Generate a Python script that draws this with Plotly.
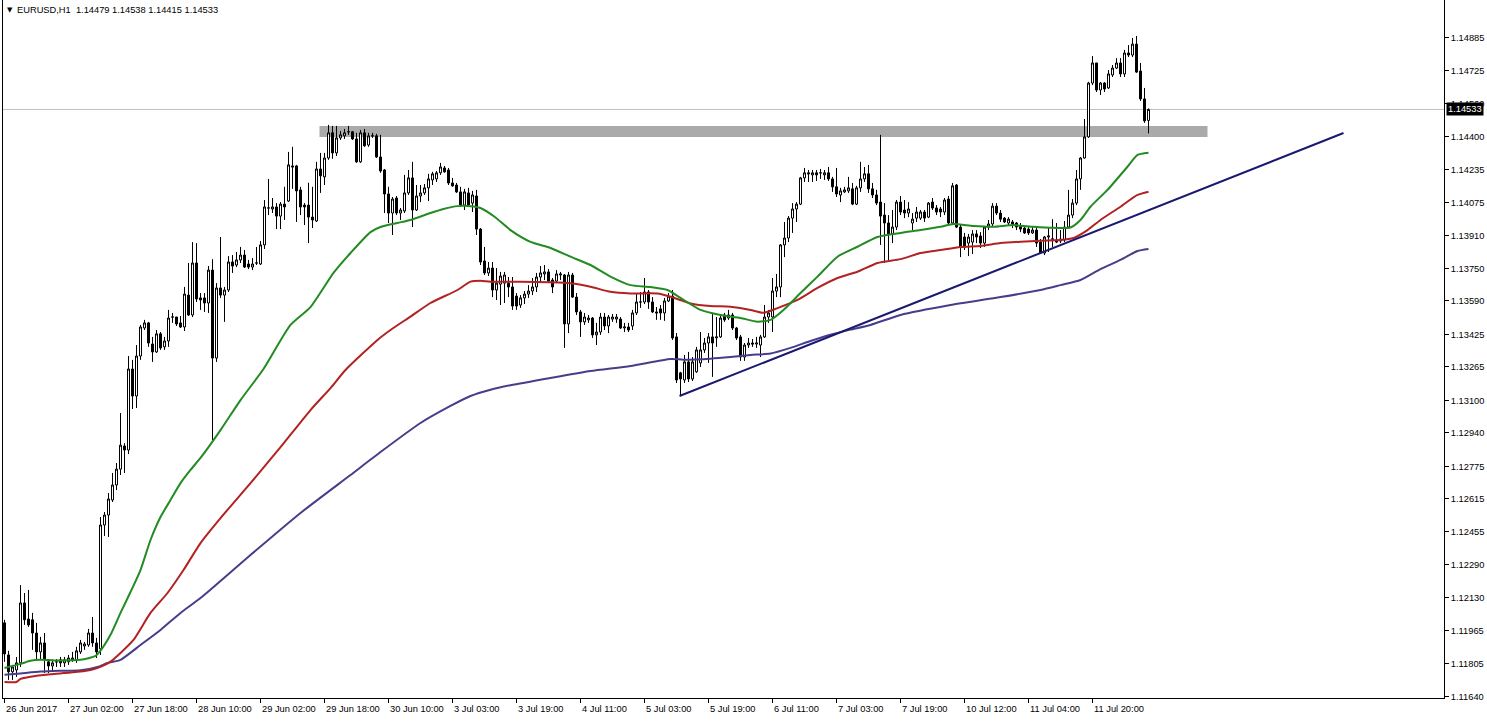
import plotly.graph_objects as go

# ---------------- data (EURUSD H1) ----------------
bar_index = list(range(287))

opens = [
    1.12005, 1.11847, 1.11764, 1.11773, 1.11808, 1.12103, 1.12024, 1.12020, 1.11955, 1.11862,
    1.11906, 1.11813, 1.11793, 1.11813, 1.11823, 1.11808, 1.11813, 1.11823, 1.11823, 1.11862,
    1.11891, 1.11896, 1.11955, 1.11906, 1.11877, 1.12487, 1.12536, 1.12610, 1.12684, 1.12762,
    1.12876, 1.12856, 1.13255, 1.13122, 1.13319, 1.13457, 1.13482, 1.13378, 1.13339, 1.13428,
    1.13364, 1.13393, 1.13511, 1.13511, 1.13482, 1.13462, 1.13619, 1.13521, 1.13777, 1.13605,
    1.13605, 1.13580, 1.13742, 1.13309, 1.13654, 1.13619, 1.13644, 1.13782, 1.13767, 1.13792,
    1.13816, 1.13772, 1.13757, 1.13777, 1.13772, 1.13866, 1.14048, 1.14043, 1.14053, 1.14008,
    1.14067, 1.14082, 1.14255, 1.14255, 1.14137, 1.14062, 1.14062, 1.14003, 1.13984, 1.14240,
    1.14201, 1.14294, 1.14418, 1.14319, 1.14393, 1.14403, 1.14423, 1.14423, 1.14388, 1.14275,
    1.14418, 1.14358, 1.14403, 1.14403, 1.14299, 1.14235, 1.14117, 1.14023, 1.14097, 1.14023,
    1.14033, 1.14122, 1.14196, 1.14038, 1.14107, 1.14122, 1.14147, 1.14186, 1.14191, 1.14221,
    1.14245, 1.14235, 1.14171, 1.14161, 1.14127, 1.14062, 1.14122, 1.14072, 1.14107, 1.13944,
    1.13787, 1.13728, 1.13752, 1.13644, 1.13673, 1.13678, 1.13678, 1.13659, 1.13614, 1.13570,
    1.13605, 1.13624, 1.13639, 1.13659, 1.13708, 1.13723, 1.13733, 1.13693, 1.13688, 1.13718,
    1.13718, 1.13477, 1.13718, 1.13609, 1.13536, 1.13487, 1.13497, 1.13506, 1.13423, 1.13437,
    1.13511, 1.13467, 1.13501, 1.13501, 1.13501, 1.13457, 1.13462, 1.13467, 1.13531, 1.13585,
    1.13585, 1.13634, 1.13585, 1.13536, 1.13551, 1.13531, 1.13590, 1.13614, 1.13413, 1.13236,
    1.13201, 1.13290, 1.13206, 1.13241, 1.13285, 1.13349, 1.13383, 1.13413, 1.13408, 1.13413,
    1.13521, 1.13506, 1.13521, 1.13457, 1.13413, 1.13314, 1.13373, 1.13383, 1.13378, 1.13373,
    1.13413, 1.13511, 1.13511, 1.13639, 1.13659, 1.13866, 1.13900, 1.13998, 1.14043, 1.14067,
    1.14196, 1.14221, 1.14211, 1.14221, 1.14221, 1.14211, 1.14221, 1.14191, 1.14152, 1.14112,
    1.14127, 1.14132, 1.14142, 1.14067, 1.14147, 1.14191, 1.14216, 1.14142, 1.14112, 1.14077,
    1.14013, 1.13974, 1.13920, 1.13954, 1.14077, 1.14038, 1.14023, 1.13974, 1.13998, 1.13998,
    1.14028, 1.14003, 1.14077, 1.14048, 1.14043, 1.14028, 1.14092, 1.13974, 1.14161, 1.13954,
    1.13905, 1.13875, 1.13880, 1.13920, 1.13910, 1.13875, 1.13954, 1.13969, 1.14057, 1.14023,
    1.13998, 1.13974, 1.13979, 1.13974, 1.13959, 1.13949, 1.13944, 1.13925, 1.13939, 1.13880,
    1.13826, 1.13905, 1.13895, 1.13890, 1.13885, 1.13890, 1.13954, 1.14013, 1.14072, 1.14191,
    1.14294, 1.14398, 1.14663, 1.14762, 1.14629, 1.14663, 1.14639, 1.14703, 1.14737, 1.14762,
    1.14708, 1.14811, 1.14801, 1.14855, 1.14722, 1.14585, 1.14479,
]

highs = [
    1.12020, 1.11867, 1.11798, 1.11837, 1.12191, 1.12152, 1.12167, 1.12054, 1.12005, 1.11936,
    1.11955, 1.11823, 1.11823, 1.11827, 1.11837, 1.11837, 1.11847, 1.11862, 1.11887, 1.11921,
    1.11911, 1.11975, 1.12034, 1.11931, 1.12526, 1.12551, 1.12644, 1.12743, 1.12792, 1.13038,
    1.12890, 1.13319, 1.13300, 1.13373, 1.13472, 1.13497, 1.13487, 1.13413, 1.13447, 1.13437,
    1.13413, 1.13546, 1.13531, 1.13511, 1.13516, 1.13659, 1.13777, 1.13880, 1.13875, 1.13629,
    1.13629, 1.13762, 1.13796, 1.13678, 1.13905, 1.13659, 1.13811, 1.13816, 1.13831, 1.13856,
    1.13841, 1.13792, 1.13801, 1.13856, 1.13885, 1.14087, 1.14191, 1.14097, 1.14072, 1.14077,
    1.14152, 1.14324, 1.14349, 1.14260, 1.14152, 1.14072, 1.14172, 1.14152, 1.14275, 1.14319,
    1.14319, 1.14457, 1.14452, 1.14452, 1.14427, 1.14437, 1.14452, 1.14427, 1.14418, 1.14432,
    1.14437, 1.14418, 1.14418, 1.14413, 1.14408, 1.14240, 1.14152, 1.14102, 1.14107, 1.14048,
    1.14211, 1.14235, 1.14275, 1.14161, 1.14161, 1.14166, 1.14216, 1.14226, 1.14230, 1.14270,
    1.14255, 1.14245, 1.14196, 1.14171, 1.14152, 1.14142, 1.14147, 1.14132, 1.14137, 1.13949,
    1.13856, 1.13782, 1.13782, 1.13752, 1.13733, 1.13733, 1.13708, 1.13708, 1.13629, 1.13619,
    1.13639, 1.13668, 1.13703, 1.13728, 1.13762, 1.13767, 1.13747, 1.13703, 1.13742, 1.13733,
    1.13723, 1.13733, 1.13728, 1.13629, 1.13546, 1.13531, 1.13521, 1.13511, 1.13482, 1.13531,
    1.13531, 1.13521, 1.13526, 1.13526, 1.13511, 1.13482, 1.13482, 1.13546, 1.13629, 1.13634,
    1.13703, 1.13644, 1.13609, 1.13560, 1.13570, 1.13605, 1.13629, 1.13644, 1.13432, 1.13241,
    1.13324, 1.13339, 1.13314, 1.13364, 1.13437, 1.13408, 1.13432, 1.13531, 1.13511, 1.13521,
    1.13531, 1.13546, 1.13531, 1.13462, 1.13423, 1.13383, 1.13408, 1.13403, 1.13413, 1.13423,
    1.13570, 1.13546, 1.13703, 1.13723, 1.13870, 1.13979, 1.14008, 1.14072, 1.14077, 1.14201,
    1.14245, 1.14235, 1.14235, 1.14235, 1.14240, 1.14235, 1.14250, 1.14201, 1.14245, 1.14147,
    1.14152, 1.14201, 1.14171, 1.14157, 1.14275, 1.14250, 1.14260, 1.14171, 1.14137, 1.14408,
    1.14072, 1.14013, 1.14038, 1.14087, 1.14107, 1.14087, 1.14077, 1.14023, 1.14053, 1.14038,
    1.14038, 1.14077, 1.14097, 1.14062, 1.14053, 1.14097, 1.14107, 1.14171, 1.14166, 1.13964,
    1.13925, 1.13920, 1.13939, 1.13939, 1.13929, 1.13959, 1.13989, 1.14072, 1.14072, 1.14038,
    1.14003, 1.14003, 1.13989, 1.13979, 1.13974, 1.13959, 1.13954, 1.13954, 1.13949, 1.13895,
    1.13910, 1.13949, 1.13993, 1.13974, 1.13939, 1.13984, 1.14137, 1.14092, 1.14235, 1.14299,
    1.14486, 1.14669, 1.14796, 1.14762, 1.14668, 1.14668, 1.14727, 1.14752, 1.14786, 1.14786,
    1.14826, 1.14850, 1.14885, 1.14895, 1.14762, 1.14639, 1.14538,
]

lows = [
    1.11813, 1.11724, 1.11724, 1.11739, 1.11788, 1.11995, 1.11985, 1.11872, 1.11823, 1.11823,
    1.11758, 1.11758, 1.11773, 1.11788, 1.11788, 1.11788, 1.11798, 1.11813, 1.11808, 1.11852,
    1.11872, 1.11887, 1.11887, 1.11832, 1.11847, 1.12433, 1.12428, 1.12600, 1.12659, 1.12733,
    1.12743, 1.12836, 1.13058, 1.13063, 1.13300, 1.13447, 1.13364, 1.13290, 1.13334, 1.13349,
    1.13349, 1.13364, 1.13482, 1.13467, 1.13457, 1.13442, 1.13516, 1.13511, 1.13585, 1.13546,
    1.13536, 1.13531, 1.12905, 1.13290, 1.13605, 1.13487, 1.13634, 1.13728, 1.13757, 1.13777,
    1.13752, 1.13747, 1.13742, 1.13767, 1.13767, 1.13846, 1.14013, 1.14023, 1.13944, 1.13944,
    1.13989, 1.14077, 1.14142, 1.13979, 1.14013, 1.13964, 1.13875, 1.13949, 1.13979, 1.14122,
    1.14161, 1.14285, 1.14290, 1.14304, 1.14383, 1.14388, 1.14408, 1.14383, 1.14270, 1.14270,
    1.14349, 1.14349, 1.14393, 1.14294, 1.14221, 1.14023, 1.13974, 1.13915, 1.14013, 1.13989,
    1.14023, 1.14112, 1.13954, 1.14033, 1.14077, 1.14112, 1.14082, 1.14161, 1.14176, 1.14211,
    1.14221, 1.14161, 1.14152, 1.14122, 1.14053, 1.14038, 1.14053, 1.14028, 1.13915, 1.13767,
    1.13718, 1.13713, 1.13609, 1.13595, 1.13570, 1.13580, 1.13609, 1.13546, 1.13546, 1.13556,
    1.13575, 1.13605, 1.13619, 1.13634, 1.13683, 1.13693, 1.13683, 1.13629, 1.13678, 1.13693,
    1.13359, 1.13432, 1.13605, 1.13521, 1.13413, 1.13472, 1.13482, 1.13408, 1.13373, 1.13423,
    1.13447, 1.13432, 1.13487, 1.13482, 1.13452, 1.13437, 1.13437, 1.13447, 1.13521, 1.13556,
    1.13575, 1.13551, 1.13531, 1.13497, 1.13497, 1.13492, 1.13585, 1.13398, 1.13186, 1.13122,
    1.13186, 1.13191, 1.13196, 1.13236, 1.13265, 1.13334, 1.13285, 1.13216, 1.13364, 1.13408,
    1.13487, 1.13497, 1.13447, 1.13398, 1.13295, 1.13295, 1.13359, 1.13364, 1.13359, 1.13314,
    1.13408, 1.13482, 1.13437, 1.13609, 1.13609, 1.13806, 1.13880, 1.13925, 1.13979, 1.14062,
    1.14176, 1.14176, 1.14176, 1.14181, 1.14191, 1.14186, 1.14181, 1.14127, 1.14102, 1.14077,
    1.14122, 1.14122, 1.14062, 1.14062, 1.14127, 1.14176, 1.14122, 1.14097, 1.14062, 1.13866,
    1.13777, 1.13792, 1.13875, 1.13939, 1.14013, 1.13998, 1.14003, 1.13939, 1.13979, 1.13989,
    1.13979, 1.13998, 1.14038, 1.14013, 1.14003, 1.14013, 1.13964, 1.13969, 1.13949, 1.13806,
    1.13841, 1.13811, 1.13821, 1.13875, 1.13851, 1.13856, 1.13939, 1.13954, 1.14013, 1.13979,
    1.13974, 1.13964, 1.13949, 1.13939, 1.13929, 1.13920, 1.13915, 1.13920, 1.13856, 1.13821,
    1.13816, 1.13831, 1.13856, 1.13875, 1.13875, 1.13880, 1.13949, 1.13998, 1.14062, 1.14137,
    1.14290, 1.14393, 1.14653, 1.14619, 1.14604, 1.14619, 1.14634, 1.14693, 1.14732, 1.14693,
    1.14693, 1.14791, 1.14791, 1.14713, 1.14575, 1.14467, 1.14415,
]

closes = [
    1.11852, 1.11764, 1.11788, 1.11808, 1.12103, 1.12020, 1.11995, 1.11955, 1.11862, 1.11906,
    1.11823, 1.11793, 1.11808, 1.11813, 1.11808, 1.11823, 1.11832, 1.11832, 1.11867, 1.11906,
    1.11901, 1.11955, 1.11906, 1.11862, 1.12487, 1.12536, 1.12615, 1.12684, 1.12762, 1.12880,
    1.12856, 1.13255, 1.13122, 1.13319, 1.13462, 1.13482, 1.13383, 1.13339, 1.13428, 1.13359,
    1.13393, 1.13506, 1.13511, 1.13477, 1.13462, 1.13624, 1.13521, 1.13777, 1.13600, 1.13595,
    1.13580, 1.13742, 1.13309, 1.13654, 1.13619, 1.13644, 1.13782, 1.13762, 1.13792, 1.13816,
    1.13757, 1.13757, 1.13772, 1.13777, 1.13866, 1.14053, 1.14048, 1.14053, 1.14008, 1.14067,
    1.14053, 1.14260, 1.14250, 1.14132, 1.14053, 1.14053, 1.14003, 1.13989, 1.14240, 1.14206,
    1.14294, 1.14418, 1.14319, 1.14393, 1.14408, 1.14418, 1.14423, 1.14388, 1.14275, 1.14418,
    1.14354, 1.14403, 1.14403, 1.14299, 1.14230, 1.14117, 1.14023, 1.14092, 1.14023, 1.14038,
    1.14122, 1.14196, 1.14038, 1.14107, 1.14122, 1.14147, 1.14191, 1.14216, 1.14221, 1.14250,
    1.14226, 1.14171, 1.14157, 1.14127, 1.14062, 1.14127, 1.14062, 1.14112, 1.13944, 1.13782,
    1.13728, 1.13752, 1.13644, 1.13678, 1.13713, 1.13718, 1.13659, 1.13565, 1.13565, 1.13605,
    1.13624, 1.13639, 1.13659, 1.13708, 1.13728, 1.13733, 1.13688, 1.13659, 1.13723, 1.13723,
    1.13477, 1.13718, 1.13609, 1.13536, 1.13487, 1.13511, 1.13506, 1.13423, 1.13437, 1.13511,
    1.13467, 1.13511, 1.13511, 1.13511, 1.13457, 1.13462, 1.13447, 1.13531, 1.13585, 1.13585,
    1.13634, 1.13585, 1.13536, 1.13531, 1.13531, 1.13590, 1.13614, 1.13408, 1.13201, 1.13206,
    1.13290, 1.13206, 1.13290, 1.13349, 1.13349, 1.13383, 1.13413, 1.13383, 1.13413, 1.13506,
    1.13497, 1.13521, 1.13457, 1.13408, 1.13314, 1.13373, 1.13383, 1.13378, 1.13383, 1.13413,
    1.13511, 1.13531, 1.13639, 1.13659, 1.13866, 1.13900, 1.13998, 1.14043, 1.14067, 1.14196,
    1.14221, 1.14216, 1.14221, 1.14211, 1.14221, 1.14221, 1.14191, 1.14152, 1.14117, 1.14132,
    1.14137, 1.14147, 1.14067, 1.14147, 1.14191, 1.14216, 1.14142, 1.14112, 1.14072, 1.14008,
    1.13974, 1.13920, 1.13954, 1.14077, 1.14028, 1.14023, 1.14043, 1.13993, 1.14028, 1.14028,
    1.13998, 1.14072, 1.14048, 1.14028, 1.14028, 1.14087, 1.13974, 1.14157, 1.13954, 1.13856,
    1.13856, 1.13905, 1.13920, 1.13905, 1.13875, 1.13954, 1.13969, 1.14057, 1.14023, 1.13993,
    1.13979, 1.13993, 1.13969, 1.13954, 1.13944, 1.13925, 1.13925, 1.13939, 1.13875, 1.13826,
    1.13905, 1.13910, 1.13895, 1.13880, 1.13895, 1.13954, 1.14013, 1.14072, 1.14191, 1.14294,
    1.14398, 1.14663, 1.14762, 1.14629, 1.14663, 1.14634, 1.14708, 1.14737, 1.14762, 1.14708,
    1.14811, 1.14801, 1.14855, 1.14717, 1.14585, 1.14477, 1.14533,
]

# moving averages (sampled along the bars)
ma_fast_bar = [0, 4, 6.5, 9, 14, 19, 22.75, 24, 26.5, 29, 31.5, 34, 36.5, 39, 41.5, 44, 46.5, 49,
               54, 59, 64.75, 71.5, 76.5, 82.25, 86.5, 91.5, 94, 98.25, 101.5, 106.5, 109.75,
               113.25, 116.5, 119, 122.5, 126.5, 131.5, 136.5, 141.5, 146.5, 151.5, 156.5, 161.5,
               165.75, 169, 174, 179, 184, 188.25, 191.5, 194.75, 199, 203.25, 208.25, 213.25,
               218.25, 224, 229, 234, 237.25, 242.25, 247.25, 252.25, 257.25, 262.25, 266.5, 269,
               271.5, 275.75, 280.75, 283.25, 286]
ma_fast_val = [1.11783, 1.11803, 1.11818, 1.11823, 1.11820, 1.11823, 1.11842, 1.11868, 1.11946,
               1.12054, 1.12157, 1.12265, 1.12413, 1.12526, 1.12610, 1.12693, 1.12758, 1.12817,
               1.12954, 1.13102, 1.13255, 1.13472, 1.13560, 1.13728, 1.13826, 1.13929, 1.13954,
               1.13974, 1.13989, 1.14023, 1.14043, 1.14057, 1.14057, 1.14048, 1.14005, 1.13939,
               1.13881, 1.13851, 1.13808, 1.13767, 1.13710, 1.13668, 1.13659, 1.13644, 1.13605,
               1.13546, 1.13521, 1.13506, 1.13488, 1.13497, 1.13546, 1.13629, 1.13710, 1.13808,
               1.13857, 1.13905, 1.13925, 1.13939, 1.13955, 1.13969, 1.13959, 1.13955, 1.13964,
               1.13955, 1.13950, 1.13952, 1.13989, 1.14054, 1.14137, 1.14251, 1.14309, 1.14320]

ma_mid_bar = [0, 3, 4, 6.5, 11.5, 16.5, 21.5, 24, 26.5, 29, 32.25, 36.5, 40.75, 44.75, 49, 54,
              61.5, 69, 76.5, 81.5, 85.25, 93.25, 96.5, 101.5, 106.5, 113.25, 116.5, 119, 121.5,
              129, 136.5, 141.5, 146.5, 151.5, 156.5, 163.25, 166.5, 171.5, 176.5, 181.5, 186.5,
              189.75, 193.25, 198.25, 203.25, 208.25, 213.25, 218.25, 224, 229, 234, 239, 244,
              249, 254, 259, 264, 267.25, 270.75, 274, 279, 283.25, 286]
ma_mid_val = [1.11714, 1.11714, 1.11729, 1.11740, 1.11752, 1.11760, 1.11773, 1.11788, 1.11814,
              1.11857, 1.11921, 1.12054, 1.12152, 1.12265, 1.12398, 1.12521, 1.12693, 1.12870,
              1.13053, 1.13161, 1.13250, 1.13398, 1.13447, 1.13513, 1.13580, 1.13644, 1.13685,
              1.13690, 1.13685, 1.13685, 1.13682, 1.13677, 1.13660, 1.13635, 1.13627, 1.13627,
              1.13611, 1.13578, 1.13565, 1.13562, 1.13546, 1.13532, 1.13555, 1.13595, 1.13654,
              1.13703, 1.13734, 1.13777, 1.13796, 1.13826, 1.13841, 1.13856, 1.13861, 1.13875,
              1.13882, 1.13887, 1.13890, 1.13900, 1.13939, 1.13989, 1.14054, 1.14112, 1.14128]

ma_slow_bar = [0, 4, 9, 14, 19, 23.25, 25.75, 29, 34, 39, 44, 49, 61.5, 74, 86.5, 94, 104, 111.5,
               116.5, 121.5, 126.5, 136.5, 146.5, 156.5, 166.5, 169.75, 176.5, 181.5, 186.5,
               191.5, 196.5, 201.5, 206.5, 211.5, 216.5, 224, 236.5, 249, 259, 264, 269, 274,
               279, 283.25, 286]
ma_slow_val = [1.11749, 1.11756, 1.11765, 1.11769, 1.11772, 1.11788, 1.11807, 1.11823, 1.11896,
               1.11970, 1.12054, 1.12127, 1.12339, 1.12546, 1.12733, 1.12846, 1.12989, 1.13073,
               1.13122, 1.13153, 1.13175, 1.13211, 1.13245, 1.13270, 1.13304, 1.13301, 1.13306,
               1.13314, 1.13324, 1.13331, 1.13359, 1.13393, 1.13424, 1.13449, 1.13472, 1.13521,
               1.13570, 1.13609, 1.13644, 1.13668, 1.13693, 1.13747, 1.13792, 1.13836, 1.13846]

# drawn objects
trend_bar = [168.75, 334.75]
trend_val = [1.13122, 1.14417]
zone_bar = [78.75, 300.75]
zone_val = [1.14398, 1.14452]
bid_price = 1.14533
title_text = "EURUSD,H1  1.14479 1.14538 1.14415 1.14533"

y_ticks = [1.14885, 1.14725, 1.14560, 1.14400, 1.14235, 1.14075, 1.13910, 1.13750, 1.13590,
           1.13425, 1.13265, 1.13100, 1.12940, 1.12775, 1.12615, 1.12455, 1.12290, 1.12130,
           1.11965, 1.11805, 1.11640]
x_tick_bars = [0, 16, 32, 48, 64, 80, 96, 112, 128, 144, 160, 176, 192, 208, 224, 240, 256, 272]
x_tick_labels = ["26 Jun 2017", "27 Jun 02:00", "27 Jun 18:00", "28 Jun 10:00", "29 Jun 02:00",
                 "29 Jun 18:00", "30 Jun 10:00", "3 Jul 03:00", "3 Jul 19:00", "4 Jul 11:00",
                 "5 Jul 03:00", "5 Jul 19:00", "6 Jul 11:00", "7 Jul 03:00", "7 Jul 19:00",
                 "10 Jul 12:00", "11 Jul 04:00", "11 Jul 20:00"]

FONT = "Liberation Sans"
FS = 9.3

fig = go.Figure()

fig.add_trace(go.Candlestick(
    x=bar_index, open=opens, high=highs, low=lows, close=closes,
    increasing=dict(line=dict(color="black", width=1), fillcolor="white"),
    decreasing=dict(line=dict(color="black", width=1), fillcolor="black"),
    whiskerwidth=0, hoverinfo="skip", showlegend=False,
))

for xs, ys, col in [(ma_slow_bar, ma_slow_val, "#483d8b"),
                    (ma_mid_bar, ma_mid_val, "#b22222"),
                    (ma_fast_bar, ma_fast_val, "#228b22")]:
    fig.add_trace(go.Scatter(x=xs, y=ys, mode="lines",
                             line=dict(color=col, width=2, shape="spline", smoothing=0.6),
                             hoverinfo="skip", showlegend=False))

fig.add_trace(go.Scatter(x=trend_bar, y=trend_val, mode="lines",
                         line=dict(color="#191970", width=2), hoverinfo="skip", showlegend=False))

# support/resistance zone and bid line
fig.add_shape(type="rect", xref="x", yref="y", x0=zone_bar[0], x1=zone_bar[1],
              y0=zone_val[0], y1=zone_val[1], fillcolor="#aaaaaa", line=dict(width=0),
              layer="below")
fig.add_shape(type="line", xref="paper", yref="y", x0=0, x1=1, y0=bid_price, y1=bid_price,
              line=dict(color="#c0c0c0", width=1), layer="below")

annotations = []
for b, t in zip(x_tick_bars, x_tick_labels):
    annotations.append(dict(x=b, xref="x", y=0, yref="paper", text=t, showarrow=False,
                            xanchor="left", yanchor="top", xshift=-1, yshift=-4,
                            font=dict(family=FONT, size=FS, color="black")))
annotations.append(dict(x=0, xref="paper", y=1, yref="paper", text="▼", showarrow=False,
                        xanchor="left", yanchor="top", xshift=2, yshift=-4,
                        font=dict(family="DejaVu Sans", size=7, color="black")))
annotations.append(dict(x=0, xref="paper", y=1, yref="paper", text=title_text, showarrow=False,
                        xanchor="left", yanchor="top", xshift=12, yshift=-3,
                        font=dict(family=FONT, size=FS, color="black")))
annotations.append(dict(x=1, xref="paper", y=bid_price, yref="y", text=f"{bid_price:.5f}",
                        showarrow=False, xanchor="left", yanchor="middle", xshift=2,
                        bgcolor="black", borderpad=1,
                        font=dict(family=FONT, size=FS, color="white")))

fig.update_layout(
    width=1487, height=721,
    margin=dict(l=3, r=43, t=0, b=23),
    paper_bgcolor="white", plot_bgcolor="white",
    showlegend=False,
    boxgap=0.5, boxgroupgap=0,
    annotations=annotations,
    xaxis=dict(range=[-0.375, 359.875], showgrid=False, zeroline=False, showline=True,
               linecolor="black", linewidth=1, ticks="outside", ticklen=4, tickcolor="black",
               tickvals=x_tick_bars, showticklabels=False, rangeslider=dict(visible=False),
               fixedrange=True),
    yaxis=dict(side="right", range=[1.11635, 1.15072], tickvals=y_ticks,
               ticktext=[f"{v:.5f}" for v in y_ticks], ticks="outside", ticklen=4,
               tickcolor="black", showline=True, mirror=True, linecolor="black", linewidth=1,
               showgrid=False, zeroline=False, fixedrange=True,
               tickfont=dict(family=FONT, size=FS, color="black")),
)

fig.write_html("out.html", config={"displayModeBar": False},
               post_script="document.body.style.margin='0';document.body.style.overflow='hidden';")
